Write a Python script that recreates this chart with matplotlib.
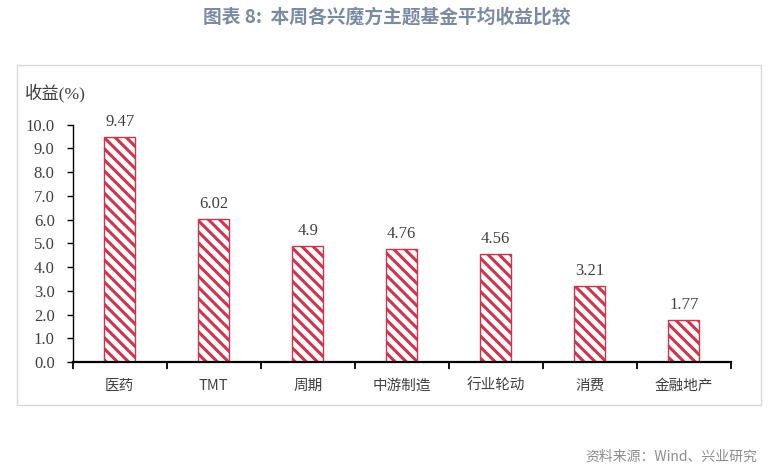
import numpy as np
import matplotlib.pyplot as plt
from matplotlib.patches import Rectangle

categories = ['医药', 'TMT', '周期', '中游制造', '行业轮动', '消费', '金融地产']
returns = [9.47, 6.02, 4.9, 4.76, 4.56, 3.21, 1.77]
value_labels = ['9.47', '6.02', '4.9', '4.76', '4.56', '3.21', '1.77']
yticks = np.arange(0, 10.5, 1.0)

serif = ['Liberation Serif', 'Noto Sans CJK SC']
cjk = ['Noto Sans CJK SC', 'DejaVu Sans']
red = '#d0344c'

plt.rcParams['hatch.linewidth'] = 2.2
plt.rcParams['hatch.color'] = red

fig = plt.figure(figsize=(7.73, 4.69), dpi=100)
W, H = 773, 469

# outer frame
fig.patches.append(Rectangle((17 / W, 1 - 405 / H), 744 / W, 340 / H,
                             transform=fig.transFigure, fill=False,
                             edgecolor='#d9d9d9', linewidth=1.0))

ax = fig.add_axes([72.7 / W, 1 - 362 / H, 658 / W, (362 - 124.7) / H])
x = np.arange(len(categories))
ax.bar(x, returns, width=0.33, color='white', edgecolor=red,
       hatch='\\\\\\', linewidth=1.0)
for xi, v, lab in zip(x, returns, value_labels):
    ax.text(xi, v + 0.3, lab, ha='center', va='bottom', fontsize=12,
            color='#404040', family=serif)

ax.set_xlim(-0.5, len(categories) - 0.5)
ax.set_ylim(0, 10)
ax.set_yticks(yticks)
ax.set_yticklabels(['%.1f' % t for t in yticks], family=serif, fontsize=12,
                   color='#404040')
ax.set_xticks(x)
ax.set_xticklabels(categories, family=cjk, fontsize=10.5, color='#404040')
ax.set_xticks(np.arange(-0.5, len(categories)), minor=True)
ax.tick_params(axis='x', which='major', length=0, pad=12)
ax.tick_params(axis='x', which='minor', length=5, width=1.3, direction='out')
ax.tick_params(axis='y', length=4, width=1.0, direction='out', pad=9)
for s in ['top', 'right']:
    ax.spines[s].set_visible(False)
ax.spines['bottom'].set_linewidth(1.6)
ax.spines['left'].set_linewidth(1.0)

fig.text(25 / W, 1 - 93 / H, '收益(%)', family=serif, fontsize=12.5,
         color='#404040', va='center', ha='left')

fig.text(0.5, 1 - 17 / H, '图表 8:  本周各兴魔方主题基金平均收益比较', family=cjk,
         fontsize=13.5, fontweight='bold', color='#7b8aa3', ha='center', va='center')
fig.text(757 / W, 1 - 457 / H, '资料来源：Wind、兴业研究', family=cjk,
         fontsize=10, color='#8c8c8c', ha='right', va='center')

fig.savefig('out.png', dpi=100)
